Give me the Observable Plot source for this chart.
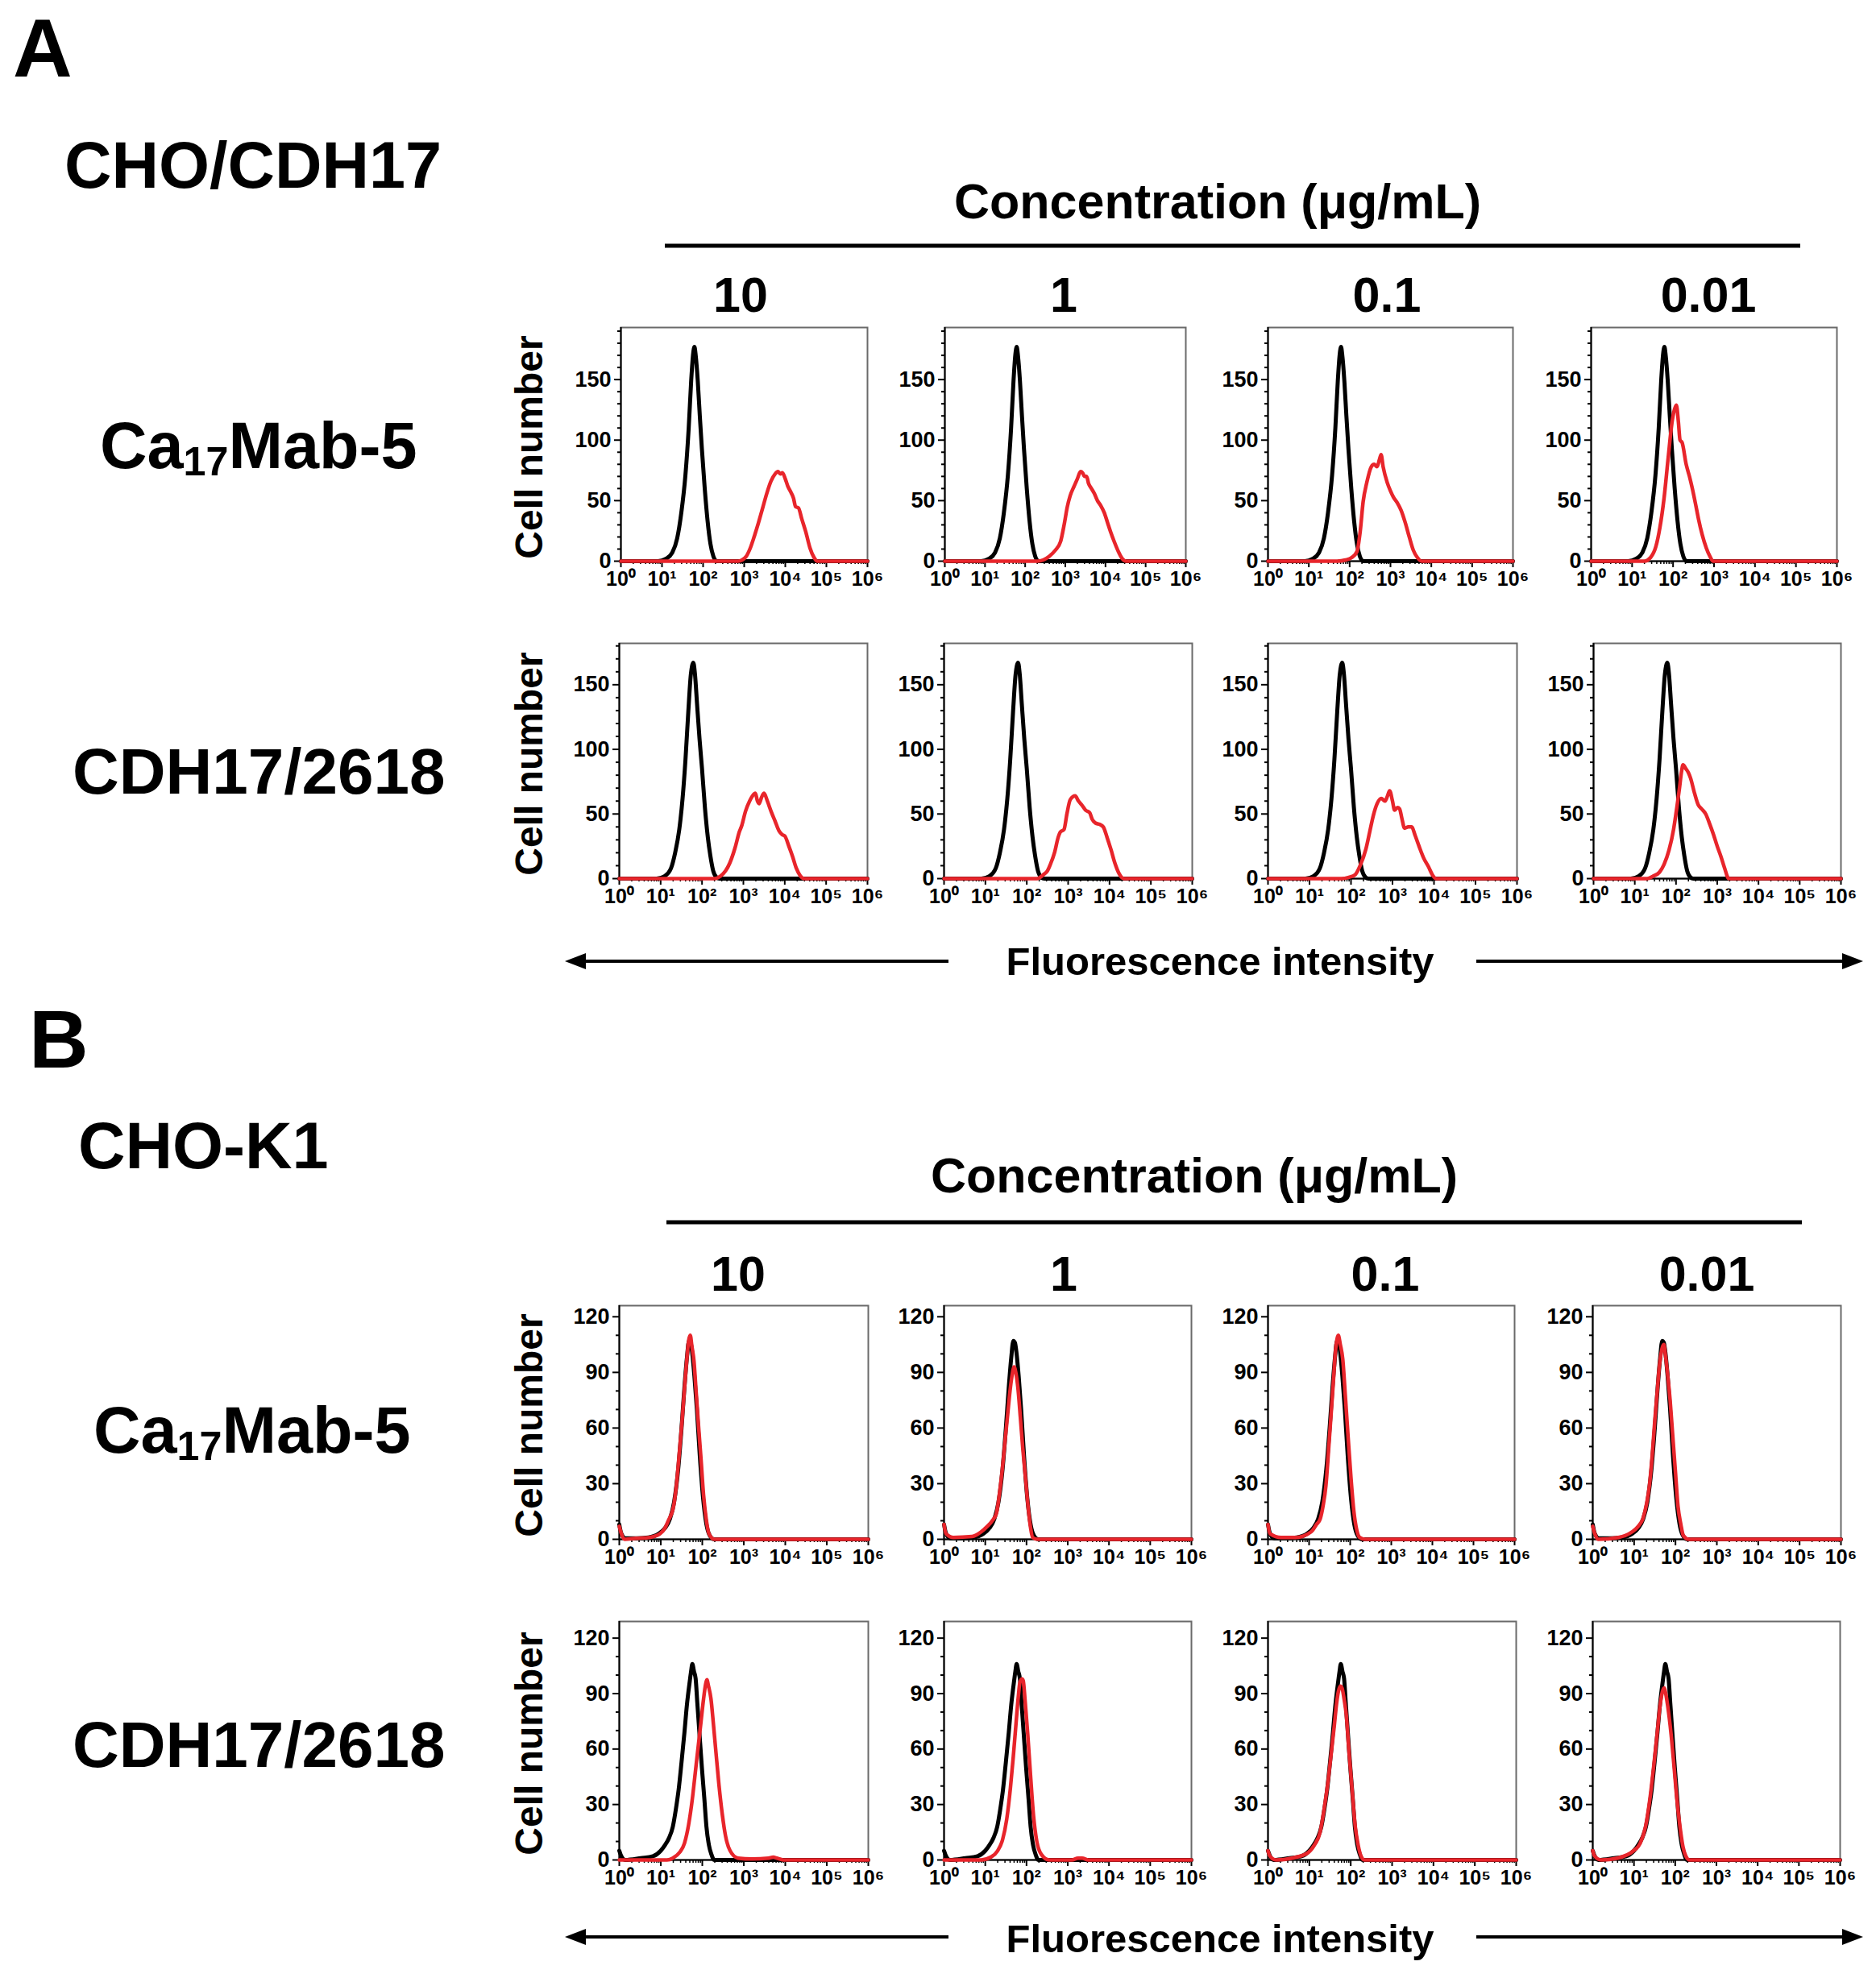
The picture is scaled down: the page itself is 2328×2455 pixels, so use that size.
<!DOCTYPE html>
<html>
<head>
<meta charset="utf-8">
<script src="https://cdn.jsdelivr.net/npm/d3@7"></script>
<script src="https://cdn.jsdelivr.net/npm/@observablehq/plot@0.6"></script>
<style>
  html, body { margin: 0; padding: 0; background: #fff; }
  #fig { position: relative; width: 2328px; height: 2455px; background: #fff; overflow: hidden;
         font-family: "Liberation Sans", Arial, Helvetica, sans-serif; font-weight: bold; color: #000; }
  .lbl { position: absolute; white-space: nowrap; line-height: 1; }
  .panel { position: absolute; }
  sub { font-size: 62%; vertical-align: -0.18em; line-height: 0; }
</style>
</head>
<body>
<div id="fig"></div>
<script>
// ---------------- DATA (x = log10 fluorescence intensity, y = cell number) ----------------
const concentrations = ["10", "1", "0.1", "0.01"];
const cellLinesA = "CHO/CDH17";
const cellLinesB = "CHO-K1";
const antibodies = ["Ca<sub>17</sub>Mab-5", "CDH17/2618"];
const xTickLabels = ["10⁰", "10¹", "10²", "10³", "10⁴", "10⁵", "10⁶"];
const yTicksA = [0, 50, 100, 150];
const yTicksB = [0, 30, 60, 90, 120];

// Panel A, Ca17Mab-5 row: black control and red sample per concentration
const ctrlA1 = [[0,0],[0.9,0],[1.1,2],[1.25,7],[1.37,19],[1.47,40],[1.57,71],[1.65,110],[1.71,149],[1.76,172],[1.79,177],[1.82,170],[1.87,149],[1.92,120],[1.97,93],[2.04,60],[2.11,33],[2.18,14],[2.25,4],[2.33,0],[6,0]];
const redA1_10 = [[0,0],[2.85,0],[2.95,1],[3.05,4],[3.15,11],[3.25,21],[3.35,32],[3.45,44],[3.55,56],[3.65,66],[3.75,72],[3.82,74],[3.88,72],[3.93,73],[4.0,68],[4.06,62],[4.12,58],[4.2,52],[4.25,45],[4.32,44],[4.4,35],[4.5,24],[4.6,11],[4.7,3],[4.78,0],[6,0]];
const redA1_1 = [[0,0],[2.3,0],[2.45,1],[2.6,4],[2.75,9],[2.88,16],[2.97,30],[3.05,45],[3.12,54],[3.22,62],[3.3,68],[3.38,74],[3.43,73],[3.48,70],[3.53,70],[3.58,64],[3.65,60],[3.72,56],[3.8,50],[3.88,46],[3.97,40],[4.05,32],[4.13,24],[4.22,16],[4.32,8],[4.42,2],[4.52,0],[6,0]];
const redA1_01 = [[0,0],[1.69,0],[1.9,1],[2.05,3],[2.18,8],[2.26,25],[2.33,49],[2.42,65],[2.53,78],[2.6,80],[2.67,78],[2.73,84],[2.77,88],[2.82,78],[2.92,65],[3.0,58],[3.07,53],[3.17,48],[3.26,42],[3.36,32],[3.46,20],[3.56,9],[3.66,3],[3.76,0],[6,0]];
const redA1_001 = [[0,0],[1.3,0],[1.45,3],[1.58,12],[1.68,28],[1.78,52],[1.88,85],[1.98,116],[2.04,126],[2.08,129],[2.13,115],[2.17,100],[2.22,98],[2.32,80],[2.4,70],[2.47,60],[2.55,47],[2.62,35],[2.71,22],[2.81,11],[2.9,4],[2.98,0],[6,0]];

// Panel A, CDH17/2618 row
const ctrlA2 = [[0,0],[0.9,0],[1.1,2],[1.25,8],[1.35,20],[1.45,38],[1.53,62],[1.6,92],[1.67,130],[1.73,158],[1.79,167],[1.83,158],[1.88,135],[1.94,108],[2.0,85],[2.07,55],[2.14,32],[2.2,18],[2.27,6],[2.35,1],[2.42,0],[6,0]];
const redA2_10 = [[0,0],[2.3,0],[2.45,2],[2.57,6],[2.67,12],[2.8,24],[2.9,36],[2.96,41],[3.05,52],[3.15,60],[3.22,64],[3.29,66],[3.34,60],[3.38,58],[3.44,63],[3.5,66],[3.58,60],[3.67,52],[3.76,45],[3.86,37],[3.94,34],[4.0,33],[4.1,25],[4.19,17],[4.28,8],[4.38,2],[4.47,0],[6,0]];
const redA2_1 = [[0,0],[2.25,0],[2.4,3],[2.5,6],[2.57,11],[2.67,20],[2.76,32],[2.81,36],[2.9,38],[2.97,50],[3.05,61],[3.17,64],[3.25,60],[3.33,57],[3.42,53],[3.52,51],[3.58,46],[3.66,43],[3.76,42],[3.85,40],[3.94,32],[4.04,22],[4.13,12],[4.23,4],[4.35,0],[6,0]];
const redA2_01 = [[0,0],[1.76,0],[1.95,1],[2.1,3],[2.22,10],[2.36,23],[2.45,36],[2.54,49],[2.63,58],[2.73,62],[2.82,60],[2.88,64],[2.93,68],[3.0,60],[3.05,53],[3.12,55],[3.17,54],[3.23,46],[3.29,39],[3.38,40],[3.46,40],[3.55,33],[3.64,25],[3.75,16],[3.87,9],[3.96,3],[4.05,0],[6,0]];
const redA2_001 = [[0,0],[1.3,0],[1.45,2],[1.6,5],[1.71,11],[1.83,22],[1.94,38],[2.02,55],[2.08,69],[2.13,82],[2.17,88],[2.24,85],[2.3,82],[2.35,78],[2.45,66],[2.54,57],[2.62,54],[2.72,50],[2.82,42],[2.91,34],[3.0,25],[3.09,17],[3.18,8],[3.28,0],[6,0]];

// Panel B, Ca17Mab-5 row
const ctrlB1 = [[0,8],[0.05,3],[0.15,0.5],[0.4,0.5],[0.7,1],[0.95,3],[1.1,6],[1.22,11],[1.32,20],[1.42,38],[1.5,60],[1.57,82],[1.63,98],[1.68,107],[1.72,106],[1.76,100],[1.81,88],[1.87,70],[1.94,45],[2.02,22],[2.1,8],[2.18,2],[2.28,0],[6,0]];
const redB1_10 = [[0,7],[0.05,3],[0.13,0],[0.4,0.5],[0.72,1],[0.98,3],[1.1,6],[1.18,10],[1.31,18],[1.38,30],[1.44,45],[1.51,63],[1.57,81],[1.62,95],[1.67,107],[1.71,110],[1.75,104],[1.8,96],[1.85,80],[1.9,64],[1.97,43],[2.03,24],[2.1,10],[2.16,3],[2.29,0],[6,0]];
const redB1_1 = [[0,8],[0.05,3],[0.23,1],[0.68,1.5],[0.9,4],[1.05,7],[1.17,10],[1.27,14],[1.34,24],[1.41,37],[1.48,53],[1.55,69],[1.6,80],[1.64,87],[1.7,93],[1.74,90],[1.79,82],[1.85,66],[1.91,49],[1.98,32],[2.05,15],[2.1,6],[2.15,1],[2.27,0],[6,0]];
const redB1_01 = [[0,8],[0.05,3],[0.32,1],[0.68,1],[1.05,4],[1.18,8],[1.27,11],[1.34,18],[1.41,29],[1.48,50],[1.55,72],[1.6,88],[1.64,101],[1.68,108],[1.71,110],[1.76,105],[1.82,97],[1.88,78],[1.95,55],[2.02,33],[2.09,15],[2.16,5],[2.23,1],[2.36,0],[6,0]];
const redB1_001 = [[0,7],[0.05,3],[0.13,0],[0.62,1],[0.95,4],[1.1,7],[1.21,11],[1.3,19],[1.37,29],[1.44,46],[1.5,64],[1.56,80],[1.6,91],[1.65,100],[1.69,104],[1.72,105],[1.76,99],[1.8,91],[1.87,75],[1.93,57],[2.0,36],[2.06,18],[2.13,8],[2.19,2],[2.32,0],[6,0]];

// Panel B, CDH17/2618 row
const ctrlB2 = [[0,5],[0.05,2],[0.14,0],[0.52,1],[0.81,2],[1.0,5],[1.1,8],[1.2,12],[1.29,18],[1.36,27],[1.43,38],[1.5,53],[1.57,69],[1.63,84],[1.7,97],[1.73,102],[1.76,106],[1.8,102],[1.84,98],[1.88,85],[1.93,69],[1.99,50],[2.05,33],[2.1,18],[2.16,8],[2.22,3],[2.29,0],[6,0]];
const redB2_10 = [[0,0],[1.15,0],[1.29,1],[1.45,4],[1.57,9],[1.67,19],[1.76,33],[1.83,47],[1.9,61],[1.97,75],[2.03,87],[2.08,95],[2.11,97.5],[2.15,94],[2.21,87],[2.27,73],[2.33,58],[2.4,41],[2.48,25],[2.56,13],[2.67,5],[2.86,1],[3.2,0.5],[3.6,1],[3.71,1.5],[3.8,1],[3.95,0],[6,0]];
const redB2_1 = [[0,0],[0.9,0],[1.13,1.5],[1.3,5],[1.42,11],[1.52,22],[1.61,39],[1.68,56],[1.75,75],[1.8,88],[1.84,96],[1.89,98],[1.92,97],[1.97,85],[2.03,68],[2.1,45],[2.17,24],[2.25,10],[2.36,3],[2.55,0],[3.1,0],[3.25,1],[3.35,1],[3.5,0],[6,0]];
const redB2_01 = [[0,5],[0.05,2],[0.19,0],[0.58,1],[0.97,4],[1.12,8],[1.26,15],[1.36,28],[1.46,44],[1.53,58],[1.6,72],[1.66,85],[1.7,91],[1.75,94],[1.79,93],[1.84,87],[1.89,79],[1.96,58],[2.04,36],[2.11,18],[2.18,8],[2.25,2],[2.33,0],[6,0]];
const redB2_001 = [[0,5],[0.05,2],[0.2,0],[0.6,1],[0.99,5],[1.15,9],[1.28,18],[1.38,32],[1.48,51],[1.56,68],[1.63,83],[1.69,91],[1.73,93],[1.77,90],[1.82,83],[1.9,68],[1.97,51],[2.04,33],[2.11,19],[2.19,7],[2.26,2],[2.35,0],[6,0]];

// ---------------- LAYOUT ----------------
const FONT = '"Liberation Sans", Arial, Helvetica, sans-serif';
const RED = "#e8252b";
const rows = [
  { top: 406, bottom: 696, ymax: 193, yTicks: yTicksA, minorStep: 10,
    cols: [[770,1076],[1172,1471],[1573,1877],[1974,2279]], ctrl: ctrlA1, reds: [redA1_10, redA1_1, redA1_01, redA1_001] },
  { top: 798, bottom: 1090, ymax: 182, yTicks: yTicksA, minorStep: 10,
    cols: [[768,1076],[1171,1479],[1573,1882],[1977,2284]], ctrl: ctrlA2, reds: [redA2_10, redA2_1, redA2_01, redA2_001] },
  { top: 1620, bottom: 1910, ymax: 126, yTicks: yTicksB, minorStep: 10,
    cols: [[768,1077],[1171,1478],[1573,1879],[1976,2284]], ctrl: ctrlB1, reds: [redB1_10, redB1_1, redB1_01, redB1_001] },
  { top: 2012, bottom: 2308, ymax: 129, yTicks: yTicksB, minorStep: 10,
    cols: [[768,1077],[1171,1478],[1573,1881],[1976,2283]], ctrl: ctrlB2, reds: [redB2_10, redB2_1, redB2_01, redB2_001] }
];

const fig = document.getElementById("fig");
function label(html, x, y, size, anchor = "start", extra = "") {
  const d = document.createElement("div");
  d.className = "lbl";
  d.innerHTML = html;
  d.style.left = x + "px";
  d.style.top = y + "px";
  d.style.fontSize = size + "px";
  const tx = anchor === "middle" ? "-50%" : anchor === "end" ? "-100%" : "0";
  d.style.transform = `translate(${tx}, -50%) ${extra}`;
  fig.appendChild(d);
  return d;
}

const xMajor = d3.range(0, 7);
const xMinor = [];
for (let d = 0; d < 6; d++) for (let k = 2; k <= 9; k++) xMinor.push(d + Math.log10(k));

const ML = 72, MR = 24, MT = 12, MB = 44;
rows.forEach((row, ri) => {
  const yMinor = d3.range(row.minorStep, row.ymax, row.minorStep).filter(v => !row.yTicks.includes(v));
  row.cols.forEach(([l, r], ci) => {
    const plot = Plot.plot({
      width: r - l + ML + MR,
      height: row.bottom - row.top + MT + MB,
      marginLeft: ML, marginRight: MR, marginTop: MT, marginBottom: MB,
      x: { domain: [0, 6] },
      y: { domain: [0, row.ymax] },
      style: { fontFamily: FONT, fontWeight: "bold", fontSize: "27px", color: "#000", background: "transparent", overflow: "visible" },
      marks: [
        Plot.frame({ stroke: "#6a6a6a", strokeWidth: 2 }),
        Plot.axisY({ ticks: row.yTicks, tickSize: 8, tickPadding: 4, label: null, fontSize: 27, strokeWidth: 2 }),
        Plot.axisY({ ticks: yMinor, tickSize: 4, tickFormat: () => "", label: null, strokeWidth: 2 }),
        Plot.axisX({ ticks: xMajor, tickSize: 8, tickPadding: 5, tickFormat: d => xTickLabels[d], label: null, fontSize: 25, strokeWidth: 2 }),
        Plot.axisX({ ticks: xMinor, tickSize: 4, tickFormat: () => "", label: null, strokeWidth: 1.5 }),
        Plot.ruleX([0], { stroke: "#000", strokeWidth: 2 }),
        Plot.ruleY([0], { stroke: "#000", strokeWidth: 2 }),
        Plot.line(row.ctrl, { x: d => d[0], y: d => d[1], stroke: "#000", strokeWidth: 5, curve: "monotone-x" }),
        Plot.line(row.reds[ci], { x: d => d[0], y: d => d[1], stroke: RED, strokeWidth: 4.5, curve: "monotone-x" })
      ]
    });
    const wrap = document.createElement("div");
    wrap.className = "panel";
    wrap.style.left = (l - ML) + "px";
    wrap.style.top = (row.top - MT) + "px";
    wrap.appendChild(plot);
    fig.appendChild(wrap);
  });
  // y axis title
  label("Cell number", 657, (row.top + row.bottom) / 2 + 4, 48, "middle", "rotate(-90deg)");
});

// ---------------- TEXT ----------------
label("A", 16, 60, 102);
label(cellLinesA, 80, 205, 81);
label("Concentration (μg/mL)", 1511, 250, 61, "middle");
const colCentersA = [919, 1320, 1721, 2120];
concentrations.forEach((c, i) => label(c, colCentersA[i], 366, 61, "middle"));
label(antibodies[0], 124, 553, 81);
label(antibodies[1], 90, 958, 80);
label("Fluorescence intensity", 1514, 1193, 49, "middle");

label("B", 36, 1290, 102);
label(cellLinesB, 97, 1422, 81);
label("Concentration (μg/mL)", 1482, 1459, 61, "middle");
const colCentersB = [916, 1320, 1719, 2118];
concentrations.forEach((c, i) => label(c, colCentersB[i], 1581, 61, "middle"));
label(antibodies[0], 116, 1775, 81);
label(antibodies[1], 90, 2166, 80);
label("Fluorescence intensity", 1514, 2406, 49, "middle");

// ---------------- DECORATION: brackets and arrows ----------------
const ns = "http://www.w3.org/2000/svg";
const deco = document.createElementNS(ns, "svg");
deco.setAttribute("width", 2328); deco.setAttribute("height", 2455);
deco.style.position = "absolute"; deco.style.left = "0"; deco.style.top = "0"; deco.style.pointerEvents = "none";
function hline(x1, x2, y, w) {
  const ln = document.createElementNS(ns, "line");
  ln.setAttribute("x1", x1); ln.setAttribute("x2", x2); ln.setAttribute("y1", y); ln.setAttribute("y2", y);
  ln.setAttribute("stroke", "#000"); ln.setAttribute("stroke-width", w);
  deco.appendChild(ln);
}
function head(xTip, y, dir) {
  const p = document.createElementNS(ns, "path");
  const L = 26, H = 10;
  p.setAttribute("d", `M${xTip},${y} L${xTip - dir * L},${y - H} L${xTip - dir * L},${y + H} Z`);
  p.setAttribute("fill", "#000");
  deco.appendChild(p);
}
hline(825, 2234, 305, 5);
hline(827, 2236, 1517, 5);
[[1193], [2404]].forEach(([y]) => {
  hline(712, 1177, y, 4); head(701, y, -1);
  hline(1832, 2300, y, 4); head(2312, y, 1);
});
fig.appendChild(deco);
</script>
</body>
</html>
